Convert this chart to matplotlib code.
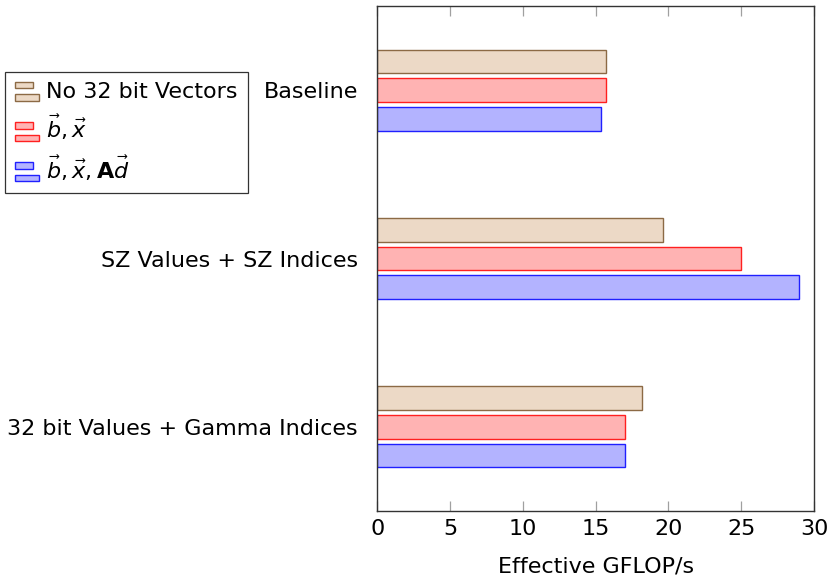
import matplotlib
matplotlib.use("Agg")
from matplotlib import pyplot as plt
from matplotlib.patches import Rectangle
from matplotlib.legend_handler import HandlerBase
import numpy as np

# Data
categories = ["Baseline", "SZ Values + SZ Indices", "32 bit Values + Gamma Indices"]
no32_vectors = [15.7, 19.6, 18.2]
vec_bx = [15.7, 25.0, 17.0]
vec_bxad = [15.4, 29.0, 17.0]
series_labels = ["No 32 bit Vectors", r"$\vec{b}, \vec{x}$", r"$\vec{b}, \vec{x}, \mathbf{A}\vec{d}$"]
x_ticks = [0, 5, 10, 15, 20, 25, 30]

plt.rcParams['font.family'] = ['DejaVu Sans']
plt.rcParams['mathtext.fontset'] = 'dejavusans'
FS = 16

fills = ['#ecd9c6', '#ffb3b3', '#b3b3ff']
edges = ['#8c6a45', '#ff2020', '#2020ff']


class BarHandler(HandlerBase):
    # pgfplots style xbar legend image: two stacked bars
    def create_artists(self, legend, orig_handle, xdescent, ydescent,
                       width, height, fontsize, trans):
        fc = orig_handle.get_facecolor()
        ec = orig_handle.get_edgecolor()
        h = height * 0.42
        r1 = Rectangle((-xdescent, -ydescent + height * 0.62), width * 0.72, h,
                       facecolor=fc, edgecolor=ec, lw=1.0, transform=trans)
        r2 = Rectangle((-xdescent, -ydescent - height * 0.18), width, h,
                       facecolor=fc, edgecolor=ec, lw=1.0, transform=trans)
        return [r1, r2]


fig = plt.figure(figsize=(8.29, 5.8), dpi=100)
ax = fig.add_axes([377.3 / 829, 1 - 511 / 580, (814 - 377.3) / 829, (511 - 6) / 580])

y = np.arange(len(categories))
bh = 0.14
off = 0.17
handles = []
for i, vals in enumerate([no32_vectors, vec_bx, vec_bxad]):
    b = ax.barh(y + (i - 1) * off, vals, height=bh, color=fills[i],
                edgecolor=edges[i], linewidth=1.0, label=series_labels[i])
    handles.append(b.patches[0])

ax.set_xlim(0, 30)
ax.set_ylim(2.5, -0.5)
ax.set_xticks(x_ticks)
ax.set_xticklabels([str(t) for t in x_ticks], fontsize=FS)
ax.set_yticks(y)
ax.set_yticklabels(categories, fontsize=FS)
ax.tick_params(axis='y', length=0, pad=14)
ax.tick_params(axis='x', direction='in', length=7, width=0.9, color='#a0a0a0',
               top=True, pad=6)
for s in ax.spines.values():
    s.set_linewidth(1.0)
    s.set_color('#333333')
ax.set_xlabel("Effective GFLOP/s", fontsize=FS, labelpad=12)

leg = fig.legend(handles, series_labels, loc='upper left',
                 bbox_to_anchor=(5 / 829, 1 - 72 / 580),
                 borderaxespad=0, fontsize=FS, frameon=True, fancybox=False,
                 edgecolor='black', handlelength=1.1, handletextpad=0.3,
                 labelspacing=0.5, borderpad=0.45,
                 handler_map={Rectangle: BarHandler()})
leg.get_frame().set_linewidth(0.9)

fig.savefig("out.png", dpi=100)
